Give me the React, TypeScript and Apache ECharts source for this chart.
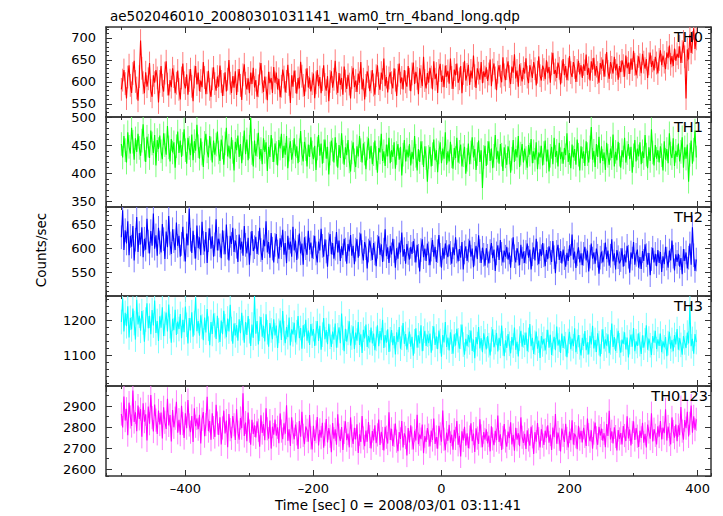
import React, { useEffect, useRef } from "react";
import * as echarts from "echarts";

const TITLE = "ae502046010_20080301031141_wam0_trn_4band_long.qdp";
const X_LABEL = "Time [sec] 0 = 2008/03/01 03:11:41";
const Y_LABEL = "Counts/sec";

// time of first bin and bin step (seconds)
const T_START = -500;
const T_STEP = 2;

const TH0 = [
  583, 604, 627, 596, 562, 611, 638, 592, 575, 619, 648, 601, 586, 557, 612,
  694, 631, 598, 574, 622, 589, 607, 643, 580, 566, 615, 598, 627, 609, 553,
  601, 636, 592, 578, 620, 647, 595, 569, 604, 588, 631, 612, 574, 597, 626,
  583, 560, 609, 642, 598, 585, 617, 571, 603, 629, 590, 556, 611, 636, 594,
  621, 579, 603, 588, 645, 610, 572, 598, 625, 583, 566, 607, 633, 596, 580,
  612, 589, 637, 601, 568, 594, 622, 578, 606, 650, 597, 575, 613, 587, 624,
  570, 603, 629, 592, 559, 616, 640, 597, 583, 608, 574, 621, 595, 632, 587,
  604, 566, 591, 618, 643, 600, 577, 612, 586, 558, 623, 597, 609, 575, 634,
  598, 621, 583, 607, 565, 590, 628, 611, 576, 601, 639, 594, 552, 615, 589,
  626, 600, 573, 609, 585, 646, 613, 592, 568, 604, 631, 587, 610, 578, 596,
  619, 563, 598, 627, 590, 611, 574, 605, 638, 594, 580, 613, 556, 601, 624,
  587, 606, 648, 597, 575, 620, 593, 609, 571, 635, 602, 584, 616, 595, 562,
  610, 632, 588, 603, 577, 619, 598, 645, 583, 606, 560, 592, 624, 611, 579,
  600, 627, 593, 571, 614, 638, 596, 582, 621, 605, 653, 590, 611, 576, 609,
  622, 598, 585, 631, 604, 568, 615, 642, 597, 610, 583, 627, 600, 589, 636,
  606, 579, 618, 644, 595, 623, 608, 572, 631, 612, 590, 657, 603, 585, 620,
  598, 632, 611, 583, 647, 606, 619, 575, 626, 641, 600, 614, 588, 637, 612,
  625, 596, 653, 610, 584, 628, 615, 642, 598, 607, 636, 574, 619, 648, 603,
  617, 639, 593, 626, 608, 660, 614, 586, 631, 620, 605, 645, 597, 624, 611,
  633, 602, 618, 651, 590, 627, 642, 609, 581, 622, 638, 613, 599, 656, 616,
  604, 630, 647, 612, 595, 635, 621, 663, 608, 626, 589, 640, 617, 601, 632,
  619, 654, 611, 597, 638, 625, 609, 645, 630, 592, 622, 658, 614, 603, 637,
  628, 606, 649, 620, 634, 598, 641, 666, 618, 627, 609, 644, 631, 594, 623,
  652, 615, 636, 604, 629, 659, 621, 611, 645, 633, 600, 626, 648, 617, 638,
  609, 640, 625, 662, 616, 632, 603, 647, 628, 655, 614, 636, 621, 598, 643,
  630, 651, 612, 638, 668, 624, 607, 645, 633, 619, 657, 626, 641, 605, 636,
  622, 649, 637, 612, 660, 631, 644, 618, 653, 628, 671, 640, 615, 634, 658,
  639, 620, 664, 645, 630, 652, 609, 641, 667, 634, 648, 626, 657, 643, 619,
  651, 672, 638, 660, 645, 629, 667, 654, 683, 640, 659, 636, 676, 648, 664,
  655, 681, 643, 669, 692, 657, 562, 674, 651, 708, 666, 690, 722, 675, 698,
];

const TH1 = [
  452, 428, 466, 441, 419, 473, 447, 435, 481, 456, 424, 462, 438, 470, 445,
  431, 458, 487, 442, 420, 465, 449, 427, 476, 453, 436, 468, 414, 459, 443,
  467, 439, 425, 471, 450, 433, 484, 446, 421, 461, 437, 455, 410, 448, 474,
  436, 458, 429, 452, 478, 441, 417, 463, 445, 432, 469, 423, 457, 440, 486,
  448, 426, 462, 435, 411, 454, 470, 439, 428, 466, 444, 419, 458, 433, 451,
  474, 437, 422, 460, 446, 415, 453, 481, 430, 449, 426, 464, 438, 405, 456,
  441, 467, 429, 452, 418, 445, 476, 434, 460, 423, 447, 498, 436, 412, 458,
  431, 450, 472, 425, 443, 416, 462, 438, 455, 404, 447, 429, 468, 441, 420,
  453, 436, 414, 459, 444, 470, 427, 449, 433, 466, 409, 442, 457, 424, 438,
  462, 430, 448, 418, 441, 475, 435, 421, 456, 443, 412, 451, 429, 464, 437,
  425, 449, 406, 444, 468, 431, 453, 417, 439, 460, 426, 447, 398, 435, 458,
  442, 419, 464, 433, 410, 450, 427, 471, 438, 415, 446, 432, 459, 421, 403,
  437, 455, 423, 411, 448, 430, 466, 441, 419, 453, 435, 407, 444, 462, 426,
  449, 416, 434, 458, 427, 401, 445, 437, 470, 422, 439, 413, 451, 430, 463,
  418, 441, 429, 455, 408, 436, 452, 424, 447, 396, 433, 459, 421, 442, 428,
  452, 414, 438, 425, 466, 431, 405, 443, 420, 457, 436, 411, 448, 427, 385,
  429, 447, 412, 434, 460, 423, 441, 402, 437, 455, 418, 444, 426, 473, 415,
  439, 421, 456, 430, 408, 445, 427, 463, 419, 438, 451, 412, 432, 447, 399,
  424, 453, 416, 437, 464, 428, 443, 406, 434, 458, 420, 441, 374, 429, 449,
  413, 436, 457, 422, 444, 409, 431, 468, 425, 440, 417, 452, 433, 404, 446,
  430, 415, 448, 437, 401, 426, 459, 420, 443, 428, 466, 411, 435, 452, 419,
  444, 427, 410, 450, 433, 461, 418, 439, 424, 455, 407, 437, 428, 449, 414,
  436, 458, 421, 442, 403, 431, 447, 416, 463, 429, 440, 412, 454, 425, 438,
  417, 445, 432, 471, 420, 436, 409, 451, 428, 443, 415, 460, 433, 405, 448,
  426, 439, 413, 457, 434, 419, 446, 482, 424, 440, 411, 452, 429, 465, 418,
  448, 422, 437, 406, 454, 431, 415, 444, 427, 469, 412, 438, 423, 456, 433,
  410, 441, 428, 463, 419, 436, 452, 425, 447, 401, 432, 459, 421, 444, 430,
  455, 416, 439, 427, 468, 433, 409, 446, 422, 478, 437, 414, 450, 426, 441,
  419, 448, 432, 405, 457, 424, 443, 418, 471, 435, 427, 462, 413, 440, 429,
  453, 421, 438, 464, 410, 446, 426, 451, 385, 433, 458, 417, 442, 476, 428,
];

const TH2 = [
  624, 681, 597, 639, 611, 658, 586, 627, 604, 648, 575, 619, 667, 593, 633,
  609, 645, 582, 621, 598, 663, 615, 590, 637, 606, 674, 600, 628, 585, 644,
  613, 592, 652, 620, 578, 636, 603, 669, 611, 589, 641, 616, 597, 655, 606,
  627, 583, 610, 646, 598, 573, 632, 607, 684, 619, 591, 638, 604, 579, 649,
  601, 624, 586, 657, 612, 594, 635, 570, 618, 643, 600, 626, 583, 609, 662,
  596, 621, 607, 580, 639, 613, 588, 651, 602, 575, 627, 610, 644, 593, 617,
  604, 572, 630, 598, 615, 585, 648, 608, 590, 623, 566, 611, 637, 595, 603,
  625, 589, 612, 644, 597, 576, 619, 605, 658, 592, 614, 581, 633, 600, 571,
  608, 631, 594, 579, 622, 603, 640, 587, 612, 569, 627, 598, 615, 583, 646,
  596, 617, 576, 604, 632, 590, 611, 566, 624, 601, 587, 638, 598, 613, 580,
  603, 627, 590, 571, 615, 596, 642, 606, 583, 620, 594, 562, 609, 631, 588,
  612, 579, 600, 635, 592, 617, 574, 605, 586, 621, 598, 568, 610, 594, 629,
  585, 606, 567, 598, 620, 581, 609, 632, 593, 575, 614, 601, 558, 596, 617,
  599, 576, 612, 590, 563, 604, 626, 587, 609, 572, 598, 641, 584, 603, 570,
  606, 588, 621, 595, 560, 601, 579, 613, 592, 634, 583, 599, 568, 610, 591,
  577, 604, 589, 616, 596, 571, 608, 585, 552, 597, 620, 582, 600, 574, 611,
  590, 565, 598, 618, 583, 604, 572, 595, 629, 587, 560, 601, 579, 611, 593,
  582, 609, 591, 568, 603, 586, 624, 594, 573, 599, 581, 614, 556, 592, 605,
  574, 596, 617, 583, 600, 561, 589, 606, 578, 628, 595, 570, 602, 587, 564,
  601, 585, 569, 595, 612, 580, 598, 553, 590, 607, 576, 618, 589, 571, 596,
  583, 604, 577, 592, 560, 597, 624, 584, 571, 601, 589, 565, 608, 579, 594,
  570, 593, 611, 581, 598, 556, 588, 603, 575, 621, 590, 567, 599, 584, 612,
  586, 563, 597, 578, 605, 591, 572, 616, 582, 548, 593, 608, 576, 595, 569,
  598, 580, 562, 591, 574, 607, 585, 630, 577, 594, 559, 588, 603, 571, 590,
  565, 589, 604, 575, 596, 552, 583, 611, 579, 592, 568, 600, 585, 547, 581,
  594, 571, 587, 613, 578, 596, 564, 585, 620, 573, 590, 556, 597, 582, 569,
  576, 601, 562, 588, 571, 606, 583, 549, 592, 579, 614, 566, 587, 598, 560,
  582, 557, 595, 574, 609, 586, 566, 591, 544, 578, 602, 571, 589, 563, 597,
  570, 593, 551, 584, 567, 604, 579, 560, 596, 575, 617, 583, 554, 588, 572,
  589, 562, 580, 546, 599, 574, 592, 558, 581, 611, 566, 645, 586, 553, 577,
];

const TH3 = [
  1195, 1262, 1168, 1221, 1183, 1240, 1151, 1207, 1174, 1233, 1192, 1145, 1258, 1188, 1213,
  1170, 1226, 1194, 1139, 1202, 1248, 1177, 1213, 1160, 1229, 1185, 1256, 1164, 1198, 1141,
  1211, 1179, 1237, 1155, 1190, 1222, 1168, 1245, 1183, 1136, 1204, 1172, 1230, 1158, 1196,
  1175, 1218, 1149, 1201, 1166, 1239, 1187, 1134, 1206, 1171, 1223, 1153, 1192, 1265, 1169,
  1198, 1156, 1214, 1182, 1143, 1208, 1165, 1232, 1176, 1129, 1195, 1161, 1219, 1186, 1147,
  1213, 1171, 1138, 1199, 1160, 1227, 1183, 1152, 1205, 1168, 1244, 1175, 1133, 1191, 1157,
  1186, 1142, 1203, 1163, 1221, 1178, 1136, 1195, 1158, 1212, 1169, 1127, 1188, 1150, 1268,
  1162, 1198, 1131, 1176, 1209, 1153, 1184, 1140, 1217, 1166, 1125, 1192, 1171, 1146, 1203,
  1157, 1185, 1121, 1170, 1199, 1144, 1226, 1163, 1135, 1181, 1152, 1208, 1128, 1174, 1160,
  1193, 1137, 1166, 1212, 1149, 1178, 1119, 1186, 1154, 1201, 1142, 1171, 1130, 1189, 1156,
  1175, 1127, 1163, 1198, 1141, 1184, 1116, 1159, 1206, 1146, 1172, 1132, 1190, 1153, 1124,
  1168, 1145, 1191, 1122, 1157, 1180, 1135, 1219, 1150, 1112, 1176, 1139, 1164, 1197, 1128,
  1151, 1183, 1118, 1165, 1142, 1195, 1130, 1160, 1107, 1173, 1148, 1188, 1124, 1155, 1137,
  1179, 1134, 1162, 1115, 1147, 1186, 1126, 1169, 1143, 1201, 1121, 1158, 1136, 1174, 1110,
  1146, 1172, 1129, 1155, 1103, 1166, 1138, 1181, 1119, 1150, 1192, 1133, 1161, 1116, 1144,
  1168, 1125, 1153, 1099, 1140, 1177, 1122, 1157, 1134, 1186, 1112, 1148, 1170, 1127, 1159,
  1135, 1162, 1108, 1149, 1183, 1130, 1154, 1118, 1171, 1141, 1096, 1158, 1137, 1195, 1124,
  1151, 1114, 1166, 1139, 1105, 1160, 1128, 1176, 1143, 1119, 1153, 1188, 1131, 1102, 1147,
  1126, 1158, 1137, 1171, 1113, 1145, 1092, 1152, 1132, 1181, 1120, 1149, 1109, 1163, 1140,
  1117, 1155, 1129, 1100, 1146, 1174, 1123, 1138, 1164, 1111, 1150, 1127, 1185, 1134, 1098,
  1143, 1121, 1161, 1133, 1106, 1152, 1128, 1179, 1116, 1139, 1097, 1148, 1170, 1125, 1157,
  1130, 1165, 1112, 1144, 1189, 1126, 1150, 1104, 1136, 1168, 1119, 1142, 1093, 1155, 1131,
  1147, 1114, 1138, 1173, 1122, 1159, 1101, 1134, 1153, 1115, 1182, 1128, 1145, 1107, 1162,
  1121, 1154, 1132, 1095, 1141, 1167, 1118, 1148, 1126, 1177, 1109, 1139, 1158, 1123, 1100,
  1150, 1127, 1169, 1115, 1137, 1103, 1156, 1131, 1184, 1120, 1144, 1110, 1163, 1135, 1097,
  1139, 1174, 1119, 1146, 1128, 1160, 1106, 1137, 1191, 1124, 1152, 1113, 1142, 1170, 1129,
  1108, 1145, 1133, 1166, 1117, 1151, 1094, 1138, 1159, 1125, 1178, 1112, 1140, 1127, 1163,
  1132, 1104, 1157, 1122, 1143, 1186, 1116, 1148, 1129, 1101, 1155, 1136, 1170, 1118, 1146,
  1127, 1162, 1109, 1140, 1123, 1152, 1098, 1135, 1167, 1119, 1144, 1112, 1158, 1131, 1175,
  1116, 1149, 1130, 1102, 1155, 1137, 1121, 1165, 1134, 1240, 1126, 1147, 1105, 1161, 1138,
];

const TH0123 = [
  2862, 2798, 2945, 2831, 2887, 2762, 2916, 2848, 2805, 2973, 2824, 2870, 2781, 2902, 2839,
  2885, 2754, 2913, 2826, 2861, 2737, 2898, 2816, 2952, 2845, 2779, 2907, 2833, 2768, 2879,
  2812, 2869, 2746, 2894, 2823, 2791, 2934, 2808, 2857, 2732, 2881, 2799, 2842, 2920, 2773,
  2835, 2764, 2901, 2817, 2748, 2866, 2795, 2928, 2810, 2776, 2853, 2729, 2889, 2804, 2841,
  2790, 2858, 2722, 2837, 2871, 2757, 2812, 2944, 2781, 2829, 2740, 2865, 2798, 2753, 2906,
  2819, 2763, 2847, 2718, 2796, 2878, 2770, 2831, 2705, 2862, 2788, 2747, 2852, 2811, 2739,
  2884, 2776, 2740, 2843, 2795, 2960, 2758, 2822, 2733, 2869, 2781, 2716, 2835, 2767, 2808,
  2751, 2827, 2785, 2707, 2856, 2772, 2814, 2738, 2889, 2792, 2745, 2831, 2698, 2802, 2764,
  2836, 2759, 2799, 2723, 2865, 2781, 2743, 2818, 2769, 2904, 2735, 2790, 2711, 2847, 2776,
  2742, 2812, 2768, 2696, 2829, 2754, 2873, 2761, 2719, 2803, 2785, 2731, 2857, 2749, 2694,
  2806, 2734, 2778, 2848, 2713, 2787, 2750, 2821, 2702, 2766, 2838, 2727, 2795, 2757, 2681,
  2819, 2745, 2789, 2716, 2861, 2762, 2734, 2800, 2691, 2775, 2827, 2738, 2769, 2704, 2846,
  2758, 2720, 2797, 2741, 2813, 2677, 2766, 2730, 2852, 2748, 2709, 2784, 2731, 2824, 2755,
  2699, 2781, 2737, 2808, 2724, 2763, 2836, 2715, 2778, 2746, 2689, 2801, 2752, 2722, 2870,
  2739, 2792, 2710, 2761, 2817, 2733, 2686, 2776, 2744, 2829, 2703, 2770, 2751, 2665, 2796,
  2727, 2809, 2748, 2694, 2783, 2736, 2858, 2719, 2765, 2743, 2812, 2676, 2757, 2729, 2795,
  2762, 2708, 2784, 2739, 2841, 2720, 2753, 2697, 2806, 2768, 2731, 2879, 2742, 2690, 2774,
  2735, 2811, 2725, 2764, 2693, 2787, 2746, 2829, 2716, 2759, 2661, 2780, 2737, 2802, 2712,
  2771, 2700, 2753, 2818, 2733, 2769, 2682, 2794, 2748, 2720, 2837, 2758, 2705, 2776, 2741,
  2789, 2723, 2760, 2685, 2804, 2744, 2714, 2782, 2738, 2855, 2729, 2766, 2692, 2751, 2815,
  2734, 2707, 2779, 2747, 2823, 2718, 2763, 2688, 2797, 2740, 2771, 2709, 2846, 2752, 2725,
  2768, 2696, 2785, 2739, 2712, 2802, 2754, 2673, 2776, 2731, 2819, 2745, 2703, 2790, 2757,
  2715, 2783, 2748, 2809, 2726, 2765, 2691, 2798, 2752, 2862, 2721, 2774, 2742, 2684, 2793,
  2761, 2730, 2816, 2746, 2703, 2779, 2738, 2832, 2717, 2769, 2754, 2695, 2806, 2743, 2782,
  2727, 2797, 2756, 2711, 2841, 2764, 2733, 2785, 2698, 2772, 2822, 2749, 2716, 2801, 2760,
  2793, 2736, 2771, 2705, 2814, 2758, 2877, 2741, 2780, 2722, 2799, 2755, 2689, 2786, 2744,
  2772, 2718, 2805, 2760, 2734, 2851, 2746, 2789, 2713, 2775, 2827, 2739, 2796, 2757, 2706,
  2783, 2749, 2820, 2726, 2768, 2703, 2812, 2777, 2745, 2866, 2732, 2790, 2761, 2718, 2804,
  2755, 2829, 2741, 2798, 2771, 2884, 2736, 2803, 2764, 2718, 2846, 2779, 2750, 2812, 2733,
  2809, 2762, 2895, 2781, 2740, 2833, 2795, 2873, 2756, 2818, 2902, 2773, 2851, 2788, 2837,
];

const BAND_NAMES = ["TH0", "TH1", "TH2", "TH3", "TH0123"];
const BAND_VALUES = [TH0, TH1, TH2, TH3, TH0123];
// 1-sigma error of each rate bin (counts/sec)
const BAND_ERRORS = [26, 21, 25, 35, 55];

// axis ranges
const X_MIN = -524;
const X_MAX = 421;
const Y_MIN = [520, 340, 500, 1013, 2568];
const Y_MAX = [725, 500, 688, 1269, 2995];

// layout / style
const PANEL_TOPS = [27, 117, 207, 296, 386];
const PANEL_HEIGHTS = [90, 90, 89, 90, 90];
const MAJOR_SPLIT = [4, 3, 4, 3, 4];
const MINOR_SPLIT = [20, 16, 19, 13, 9];
const COLORS = ["#ff0000", "#00ff00", "#0000ff", "#00ffff", "#ff00ff"];
const LIGHT = ["#ff7a7a", "#7aff7a", "#7a7aff", "#7affff", "#ff7aff"];
const LABEL_RIGHT = [703, 703, 703, 703, 708];
const AXIS_COLOR = "#333333";
const FONT = "DejaVu Sans";

function buildOption() {
  const grid: any[] = [];
  const xAxis: any[] = [];
  const yAxis: any[] = [];
  const series: any[] = [];
  const graphic: any[] = [];

  for (let p = 0; p < 5; p++) {
    const top = PANEL_TOPS[p];
    const height = PANEL_HEIGHTS[p];
    const gMain = grid.length;
    grid.push({ left: 106, right: 12, top, height, outerBoundsMode: "none" });
    const gMinor = grid.length;
    grid.push({ left: 106, right: 12, top, height, outerBoundsMode: "none" });
    const isLast = p === 4;
    const lineStyle = { color: AXIS_COLOR, width: 1.5 };
    const tickStyle = { color: AXIS_COLOR, width: 1 };

    const xBase = {
      type: "value",
      min: X_MIN,
      max: X_MAX,
      splitLine: { show: false },
    };
    const xMain = xAxis.length;
    xAxis.push({
      ...xBase,
      gridIndex: gMain,
      position: "bottom",
      splitNumber: 5,
      axisLine: { show: true, onZero: false, lineStyle },
      axisTick: { show: true, inside: true, length: 6, lineStyle: tickStyle },
      axisLabel: isLast
        ? {
            show: true,
            showMinLabel: false,
            showMaxLabel: false,
            margin: 6,
            color: "#000",
            fontFamily: FONT,
            fontSize: 13,
            formatter: (v: number) => String(v).replace("-", "\u2013"),
          }
        : { show: false },
    });
    xAxis.push({
      ...xBase,
      gridIndex: gMain,
      position: "top",
      splitNumber: 5,
      axisLine: { show: true, onZero: false, lineStyle },
      axisTick: { show: true, inside: true, length: 6, lineStyle: tickStyle },
      axisLabel: { show: false },
    });
    xAxis.push({
      ...xBase,
      gridIndex: gMinor,
      position: "bottom",
      splitNumber: 10,
      axisLine: { show: false, onZero: false },
      axisTick: { show: true, inside: true, length: 3, lineStyle: tickStyle },
      axisLabel: { show: false },
    });
    xAxis.push({
      ...xBase,
      gridIndex: gMinor,
      position: "top",
      splitNumber: 10,
      axisLine: { show: false, onZero: false },
      axisTick: { show: true, inside: true, length: 3, lineStyle: tickStyle },
      axisLabel: { show: false },
    });

    const yBase = {
      type: "value",
      min: Y_MIN[p],
      max: Y_MAX[p],
      splitLine: { show: false },
    };
    const yMain = yAxis.length;
    yAxis.push({
      ...yBase,
      gridIndex: gMain,
      position: "left",
      splitNumber: MAJOR_SPLIT[p],
      axisLine: { show: true, onZero: false, lineStyle },
      axisTick: { show: true, inside: true, length: 6, lineStyle: tickStyle },
      axisLabel: {
        show: true,
        showMinLabel: false,
        showMaxLabel: p === 1,
        margin: 10,
        color: "#000",
        fontFamily: FONT,
        fontSize: 13,
        lineHeight: 12,
        formatter: (v: number) => String(v),
      },
    });
    yAxis.push({
      ...yBase,
      gridIndex: gMain,
      position: "right",
      splitNumber: MAJOR_SPLIT[p],
      axisLine: { show: true, onZero: false, lineStyle },
      axisTick: { show: true, inside: true, length: 6, lineStyle: tickStyle },
      axisLabel: { show: false },
    });
    yAxis.push({
      ...yBase,
      gridIndex: gMinor,
      position: "left",
      splitNumber: MINOR_SPLIT[p],
      axisLine: { show: false, onZero: false },
      axisTick: { show: true, inside: true, length: 3, lineStyle: tickStyle },
      axisLabel: { show: false },
    });
    yAxis.push({
      ...yBase,
      gridIndex: gMinor,
      position: "right",
      splitNumber: MINOR_SPLIT[p],
      axisLine: { show: false, onZero: false },
      axisTick: { show: true, inside: true, length: 3, lineStyle: tickStyle },
      axisLabel: { show: false },
    });

    const vals = BAND_VALUES[p];
    const err = BAND_ERRORS[p];
    const lineData = vals.map((v, i) => [T_START + i * T_STEP, v]);
    const errData = vals.map((v, i) => [T_START + i * T_STEP, v, err]);
    const lo = Y_MIN[p];
    const hi = Y_MAX[p];
    const light = LIGHT[p];

    series.push({
      type: "custom",
      xAxisIndex: xMain,
      yAxisIndex: yMain,
      silent: true,
      z: 2,
      clip: true,
      data: errData,
      encode: { x: 0, y: 1 },
      renderItem: (params: any, api: any) => {
        const x = api.value(0);
        const y = api.value(1);
        const e = api.value(2);
        const a = api.coord([x, Math.max(lo, y - e)]);
        const b = api.coord([x, Math.min(hi, y + e)]);
        return {
          type: "line",
          shape: { x1: a[0], y1: a[1], x2: b[0], y2: b[1] },
          style: { stroke: light, lineWidth: 1 },
        };
      },
    });
    series.push({
      type: "line",
      name: BAND_NAMES[p],
      xAxisIndex: xMain,
      yAxisIndex: yMain,
      data: lineData,
      showSymbol: false,
      symbol: "none",
      clip: true,
      z: 3,
      lineStyle: { color: COLORS[p], width: 1.1 },
      itemStyle: { color: COLORS[p] },
    });

    graphic.push({
      type: "text",
      x: LABEL_RIGHT[p],
      y: top + 10,
      style: {
        text: BAND_NAMES[p],
        fill: "#000",
        font: `14.5px "${FONT}"`,
        textAlign: "right",
        textVerticalAlign: "middle",
        align: "right",
        verticalAlign: "middle",
      },
      z: 10,
    });
  }

  graphic.push({
    type: "text",
    x: 110,
    y: 15.5,
    style: {
      text: TITLE,
      fill: "#000",
      font: `13.5px "${FONT}"`,
      textAlign: "left",
      textVerticalAlign: "middle",
      align: "left",
      verticalAlign: "middle",
    },
  });
  graphic.push({
    type: "text",
    x: 398,
    y: 505,
    style: {
      text: X_LABEL,
      fill: "#000",
      font: `13.5px "${FONT}"`,
      textAlign: "center",
      textVerticalAlign: "middle",
      align: "center",
      verticalAlign: "middle",
    },
  });
  graphic.push({
    type: "text",
    x: 41,
    y: 250,
    rotation: Math.PI / 2,
    style: {
      text: Y_LABEL,
      fill: "#000",
      font: `13.5px "${FONT}"`,
      textAlign: "center",
      textVerticalAlign: "middle",
      align: "center",
      verticalAlign: "middle",
    },
  });

  return {
    animation: false,
    backgroundColor: "#ffffff",
    grid,
    xAxis,
    yAxis,
    series,
    graphic,
  };
}

export default function App() {
  const ref = useRef<HTMLDivElement>(null);
  useEffect(() => {
    if (!ref.current) return;
    const chart = echarts.init(ref.current, undefined, { renderer: "svg" });
    chart.setOption(buildOption() as any);
    return () => chart.dispose();
  }, []);
  return (
    <div
      ref={ref}
      style={{ position: "absolute", left: 0, top: 0, width: 723, height: 516 }}
    />
  );
}
